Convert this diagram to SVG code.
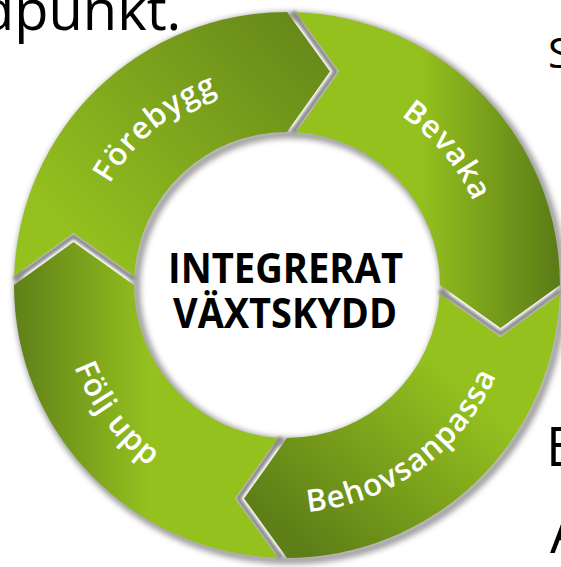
<svg xmlns="http://www.w3.org/2000/svg" width="561" height="567" viewBox="0 0 561 567">
<defs>
  <linearGradient id="gF" gradientUnits="userSpaceOnUse" x1="300" y1="10" x2="70" y2="240">
    <stop offset="0" stop-color="#66871a"/><stop offset="1" stop-color="#95c11f"/>
  </linearGradient>
  <linearGradient id="gB" gradientUnits="userSpaceOnUse" x1="560" y1="200" x2="420" y2="200">
    <stop offset="0" stop-color="#5a7b16"/><stop offset="1" stop-color="#95c11f"/>
  </linearGradient>
  <linearGradient id="gBh" gradientUnits="userSpaceOnUse" x1="320" y1="560" x2="470" y2="390">
    <stop offset="0" stop-color="#5e7f17"/><stop offset="1" stop-color="#95c11f"/>
  </linearGradient>
  <linearGradient id="gFu" gradientUnits="userSpaceOnUse" x1="14" y1="300" x2="150" y2="300">
    <stop offset="0" stop-color="#5f8018"/><stop offset="1" stop-color="#95c11f"/>
  </linearGradient>
  <filter id="blur3" filterUnits="userSpaceOnUse" x="0" y="0" width="561" height="567">
    <feGaussianBlur stdDeviation="3"/>
  </filter>
  <filter id="blur2" filterUnits="userSpaceOnUse" x="0" y="0" width="561" height="567">
    <feGaussianBlur stdDeviation="1.6"/>
  </filter>
  <path id="pF" d="M86.1,320.4 A204,204 0 0 1 356.8,93.3"/>
  <path id="pB" d="M251.6,84.1 A204,204 0 0 1 478.7,354.8"/>
  <path id="pBh" d="M194.3,493.3 A228,228 0 0 0 513.7,261.2"/>
  <path id="pFu" d="M77.1,195.9 A228,228 0 0 0 314.8,511.3"/>
</defs>
<style>
  .label { font-family: "Open Sans", "Noto Sans", sans-serif; font-weight: 600; font-size: 31px; fill: #ffffff; letter-spacing: 1px; }
  .title { font-family: "Open Sans", "Noto Sans", sans-serif; font-weight: 700; font-size: 42px; fill: #000000; }
  .bg { font-family: "Open Sans", "Noto Sans", sans-serif; font-weight: 400; fill: #000000; }
  .gap { fill: none; stroke: #8a8a8a; stroke-width: 5; filter: url(#blur2); }
  .rimshadow { fill: none; stroke: #000000; stroke-opacity: 0.45; stroke-width: 7; filter: url(#blur3); }
</style>
<rect x="0" y="0" width="561" height="567" fill="#ffffff"/>

<g id="background-text">
  <text class="bg" x="-20" y="30" font-size="56">dpunkt.</text>
  <text class="bg" x="548" y="68" font-size="42">S</text>
  <text class="bg" x="546" y="466" font-size="54">E</text>
  <text class="bg" x="550" y="553" font-size="56">A</text>
</g>

<g id="shadows">
  <circle class="rimshadow" cx="290" cy="288" r="272"/>
  <circle class="rimshadow" cx="290" cy="288" r="154"/>
</g>

<g id="connectors">
  <polyline class="gap" points="293,12 336,71.5 293,132"/>
  <polyline class="gap" points="559.8,291 500.5,334 439.7,291"/>
  <polyline class="gap" points="281,557.8 238,498.5 281,437.7"/>
  <polyline class="gap" points="14.2,279 73.5,236 134.3,279"/>
</g>

<g id="node-forebygg">
  <path d="M14.15,276 A273,273 0 0 1 287,12 L330,71.5 L287,132 A153,153 0 0 0 134.27,276 L73.5,233 Z" fill="url(#gF)"/>
  <text class="label"><textPath href="#pF" startOffset="50%" text-anchor="middle">Förebygg</textPath></text>
</g>

<g id="node-bevaka">
  <path d="M296,12.15 A273,273 0 0 1 560,285 L500.5,328 L440,285 A153,153 0 0 0 296,132.27 L339,71.5 Z" fill="url(#gB)"/>
  <text class="label"><textPath href="#pB" startOffset="50%" text-anchor="middle">Bevaka</textPath></text>
</g>

<g id="node-behovsanpassa">
  <path d="M559.85,294 A273,273 0 0 1 287,558 L244,498.5 L287,438 A153,153 0 0 0 439.73,294 L500.5,337 Z" fill="url(#gBh)"/>
  <text class="label"><textPath href="#pBh" startOffset="50%" text-anchor="middle">Behovsanpassa</textPath></text>
</g>

<g id="node-foljupp">
  <path d="M278,557.85 A273,273 0 0 1 14,285 L73.5,242 L134,285 A153,153 0 0 0 278,437.73 L235,498.5 Z" fill="url(#gFu)"/>
  <text class="label"><textPath href="#pFu" startOffset="50%" text-anchor="middle">Följ upp</textPath></text>
</g>

<g id="node-center">
  <text class="title" x="285.5" y="283" text-anchor="middle" textLength="235" lengthAdjust="spacingAndGlyphs">INTEGRERAT</text>
  <text class="title" x="285" y="328" text-anchor="middle" textLength="224" lengthAdjust="spacingAndGlyphs">VÄXTSKYDD</text>
</g>
</svg>
